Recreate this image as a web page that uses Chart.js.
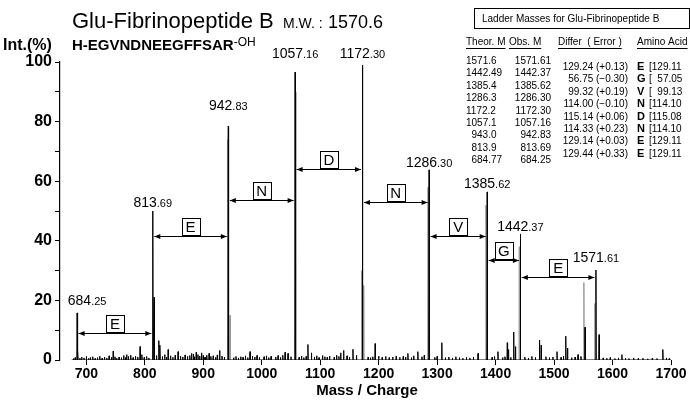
<!DOCTYPE html>
<html lang="en">
<head>
    <meta charset="UTF-8">
    <title>Glu-Fibrinopeptide B</title>
    <script src="https://cdn.jsdelivr.net/npm/chart.js"></script>
    <style>
        body { margin: 0; background: #fff; }
        canvas { display: block; }
    </style>
</head>
<body>
    <canvas id="chartCanvas" width="690" height="400"></canvas>

    <script>
        // labelled ladder peaks (m/z, intensity %)
        const mainMass = [684.25, 813.69, 942.83, 1057.16, 1172.30, 1286.30, 1385.62, 1442.37, 1571.61];
        const mainInt  = [15.8, 50, 78.5, 96.6, 99, 63.8, 56.4, 42.3, 30.2];

        // smaller peaks
        const minorMass = [685.5, 746, 769, 792, 816, 824, 826, 840, 857, 880, 888, 897, 910, 928, 980,
            1040, 1045, 1079, 1085, 1135, 1140, 1156, 1194, 1250, 1267, 1308, 1370, 1404, 1420, 1422,
            1431, 1434, 1475, 1478, 1505, 1520, 1523, 1541, 1553, 1577, 1616, 1686];
        const minorInt = [3.5, 3, 1.8, 4.5, 21, 6.5, 5, 3.5, 2.8, 2.2, 2.6, 2.4, 2.2, 3.2, 2.8,
            2.6, 2.2, 5.2, 2.4, 2.4, 3.2, 3.6, 5.5, 2.2, 2.8, 5.8, 2.2, 2.8, 5.8, 3.5,
            9.4, 4.5, 6.7, 5, 2.8, 8, 4, 1.8, 11, 8.5, 1.8, 3.5];

        // grey neighbour peaks
        const shadowMass = [941.5, 946, 1058.5, 1170.5, 1174.5, 1284.5, 1383.5, 1440.5, 1551, 1569.5];
        const shadowInt  = [74, 15, 90, 30, 25, 58, 52, 38, 26, 19];

        // baseline noise
        const noiseMass = [
            678, 681, 689, 692, 696, 700, 704, 707, 711, 715,
            719, 723, 727, 731, 735, 739, 743, 749, 752, 756,
            760, 764, 767, 772, 776, 780, 784, 788, 795, 799,
            803, 807, 820, 830, 834, 837, 844, 848, 852, 861,
            865, 869, 873, 877, 883, 885, 891, 894, 900, 903,
            906, 913, 917, 921, 924, 932, 936, 952, 956, 960,
            964, 968, 972, 976, 984, 988, 992, 996, 1004, 1008,
            1012, 1016, 1024, 1028, 1032, 1036, 1050, 1064, 1068, 1072,
            1076, 1090, 1094, 1098, 1104, 1108, 1112, 1116, 1124, 1128,
            1132, 1146, 1150, 1162, 1182, 1186, 1190, 1200, 1206, 1212,
            1218, 1224, 1230, 1236, 1242, 1246, 1256, 1260, 1274, 1278,
            1296, 1300, 1314, 1320, 1326, 1332, 1338, 1344, 1350, 1356,
            1362, 1394, 1398, 1412, 1416, 1426, 1450, 1456, 1462, 1468,
            1486, 1492, 1498, 1512, 1516, 1530, 1536, 1546, 1584, 1590,
            1596, 1604, 1610, 1622, 1628, 1636, 1644, 1652, 1660, 1668,
            1676, 1692, 1697];
        const noiseInt = [
            0.5, 0.8, 0.6, 1.0, 0.7, 1.2, 0.6, 0.9, 1.1, 0.5,
            0.8, 1.3, 0.6, 1.0, 0.7, 1.4, 0.9, 1.1, 0.6, 1.0,
            0.8, 1.5, 0.9, 1.2, 1.6, 0.8, 1.3, 1.0, 1.8, 0.9,
            1.2, 0.7, 1.5, 1.2, 1.8, 1.0, 1.4, 0.9, 1.6, 1.3,
            1.0, 1.7, 1.2, 1.5, 2.0, 1.1, 1.8, 1.3, 1.5, 1.0,
            1.6, 1.2, 1.4, 0.9, 1.7, 1.3, 1.0, 0.8, 1.2, 0.7,
            1.1, 0.9, 1.4, 0.8, 1.3, 1.0, 1.5, 0.9, 1.1, 1.4,
            0.8, 1.2, 1.0, 1.5, 0.9, 1.6, 1.1, 0.9, 1.3, 0.8,
            1.2, 1.0, 1.4, 0.8, 1.5, 1.1, 0.9, 1.3, 1.0, 1.6,
            1.2, 1.4, 0.9, 1.6, 1.0, 0.8, 1.1, 1.3, 0.9, 1.2,
            0.8, 1.0, 1.3, 0.9, 1.2, 1.0, 0.8, 1.4, 1.1, 1.6,
            0.9, 1.2, 0.8, 1.0, 0.7, 1.1, 0.8, 0.6, 0.9, 0.7,
            1.0, 0.9, 1.2, 0.8, 1.1, 0.9, 1.0, 0.7, 1.2, 0.9,
            1.1, 0.8, 1.0, 0.9, 1.3, 0.8, 1.0, 1.2, 0.7, 0.6,
            0.8, 0.5, 0.7, 0.6, 0.5, 0.7, 0.5, 0.6, 0.4, 0.6,
            0.5, 0.7, 0.5];

        const xTicks = [700, 800, 900, 1000, 1100, 1200, 1300, 1400, 1500, 1600, 1700];

        // ladder: residue between consecutive labelled peaks
        const ladderAA = ['E', 'E', 'N', 'D', 'N', 'V', 'G', 'E'];

        // table
        const theorMass = ['1571.6', '1442.49', '1385.4', '1286.3', '1172.2', '1057.1', '943.0', '813.9', '684.77'];
        const obsMass   = ['1571.61', '1442.37', '1385.62', '1286.30', '1172.30', '1057.16', '942.83', '813.69', '684.25'];
        const differ    = ['129.24 (+0.13)', '56.75 (\u22120.30)', '99.32 (+0.19)', '114.00 (\u22120.10)',
                           '115.14 (+0.06)', '114.33 (+0.23)', '129.14 (+0.03)', '129.44 (+0.33)'];
        const tableAA   = ['E', 'G', 'V', 'N', 'D', 'N', 'E', 'E'];
        const aaMass    = ['[129.11', '[  57.05', '[  99.13', '[114.10', '[115.08', '[114.10', '[129.11', '[129.11'];

        // annotation placement, in axis units (intensity %)
        const labelLevel = [20.1, 53, 85.6, 103, 103, 66.4, 59.4, 45, 34.6];
        const labelShift = [10, 0, 0, 0, 0, 0, 0, 0, 0];
        const arrowLevel = [9, 41.6, 53.7, 64, 53, 41.6, 33.6, 27.9];

        const FONT = "'Liberation Sans', Arial, sans-serif";

        function sticks(masses, ints, gaps) {
            const pts = [];
            const order = masses.map((m, i) => i).sort((a, b) => masses[a] - masses[b]);
            order.forEach(i => {
                const m = masses[i];
                pts.push({ x: m - 0.5, y: 0 }, { x: m, y: ints[i] }, { x: m + 0.5, y: 0 });
                if (gaps) pts.push({ x: m + 0.6, y: null });
            });
            return pts;
        }

        const allMass = mainMass.concat(minorMass, noiseMass);
        const allInt = mainInt.concat(minorInt, noiseInt);
        const trace = [{ x: 675, y: 0 }].concat(sticks(allMass, allInt, false), [{ x: 1700, y: 0 }]);

        function massLabel(ctx, str, cx, cy) {
            const parts = str.split('.');
            ctx.font = '14px ' + FONT;
            const w1 = ctx.measureText(parts[0]).width;
            ctx.font = '11px ' + FONT;
            const w2 = ctx.measureText('.' + parts[1]).width;
            const x0 = cx - (w1 + w2) / 2;
            ctx.textAlign = 'left';
            ctx.textBaseline = 'alphabetic';
            ctx.font = '14px ' + FONT;
            ctx.fillText(parts[0], x0, cy + 5);
            ctx.font = '11px ' + FONT;
            ctx.fillText('.' + parts[1], x0 + w1, cy + 5);
        }

        function ladderArrow(ctx, x1, x2, yy, letter) {
            ctx.lineWidth = 1;
            ctx.beginPath();
            ctx.moveTo(x1, yy + 0.5);
            ctx.lineTo(x2, yy + 0.5);
            ctx.stroke();
            [[x1, 1], [x2, -1]].forEach(([xe, d]) => {
                ctx.beginPath();
                ctx.moveTo(xe, yy + 0.5);
                ctx.lineTo(xe + d * 6, yy - 2);
                ctx.lineTo(xe + d * 6, yy + 3);
                ctx.closePath();
                ctx.fill();
            });
            const cx = (x1 + x2) / 2;
            ctx.strokeRect(Math.round(cx - 9) + 0.5, Math.round(yy - 18) + 0.5, 18, 17);
            ctx.font = '15px ' + FONT;
            ctx.textAlign = 'center';
            ctx.textBaseline = 'alphabetic';
            ctx.fillText(letter, cx, yy - 4);
        }

        const annotations = {
            id: 'annotations',
            afterDraw(chart) {
                const { ctx, scales: { x, y } } = chart;
                ctx.save();
                ctx.fillStyle = '#000';
                ctx.strokeStyle = '#000';

                // title
                ctx.textAlign = 'left';
                ctx.textBaseline = 'alphabetic';
                ctx.font = '22px ' + FONT;
                ctx.fillText('Glu-Fibrinopeptide B', 72, 28);
                ctx.font = '14px ' + FONT;
                ctx.fillText('M.W. :', 283, 28);
                ctx.font = '18px ' + FONT;
                ctx.fillText('1570.6', 328, 28);

                ctx.font = 'bold 16px ' + FONT;
                ctx.fillText('Int.(%)', 3, 50);
                ctx.font = 'bold 15px ' + FONT;
                ctx.fillText('H-EGVNDNEEGFFSAR', 72, 50);
                const seqW = ctx.measureText('H-EGVNDNEEGFFSAR').width;
                ctx.font = '12px ' + FONT;
                ctx.fillText('-OH', 72 + seqW, 46);

                // peak labels
                mainMass.forEach((m, i) => {
                    massLabel(ctx, m.toFixed(2), x.getPixelForValue(m) + labelShift[i], y.getPixelForValue(labelLevel[i]));
                });

                // ladder arrows
                ladderAA.forEach((aa, i) => {
                    const x1 = x.getPixelForValue(mainMass[i]) + 1.5;
                    const x2 = x.getPixelForValue(mainMass[i + 1]) - 1.5;
                    ladderArrow(ctx, x1, x2, Math.round(y.getPixelForValue(arrowLevel[i])), aa);
                });

                // axis title
                ctx.font = 'bold 15px ' + FONT;
                ctx.textAlign = 'center';
                ctx.fillText('Mass / Charge', 367, 395);

                // ladder table
                ctx.lineWidth = 1;
                ctx.strokeRect(474.5, 8.5, 215, 20);
                ctx.font = '10px ' + FONT;
                ctx.textAlign = 'left';
                ctx.fillText('Ladder Masses for Glu-Fibrinopeptide B', 482, 22);

                const heads = [['Theor. M', 466], ['Obs. M', 509], ['Differ  ( Error )', 558], ['Amino Acid', 637]];
                heads.forEach(([t, hx]) => {
                    ctx.fillText(t, hx, 45);
                    const w = ctx.measureText(t).width;
                    ctx.beginPath();
                    ctx.moveTo(hx, 48.5);
                    ctx.lineTo(hx + w, 48.5);
                    ctx.stroke();
                });

                theorMass.forEach((t, i) => {
                    const ry = 64 + i * 12.4;
                    const digits = t.split('.')[0].length;
                    ctx.textAlign = 'left';
                    ctx.fillText(t, 466 + (4 - digits) * 5.5, ry);
                    ctx.textAlign = 'right';
                    ctx.fillText(obsMass[i], 551, ry);
                });
                differ.forEach((d, i) => {
                    const ry = 70 + i * 12.4;
                    ctx.textAlign = 'right';
                    ctx.font = '10px ' + FONT;
                    ctx.fillText(d, 628, ry);
                    ctx.textAlign = 'left';
                    ctx.font = 'bold 11px ' + FONT;
                    ctx.fillText(tableAA[i], 637, ry);
                    ctx.font = '10px ' + FONT;
                    ctx.fillText(aaMass[i], 649, ry);
                });

                ctx.restore();
            }
        };

        const ctx = document.getElementById('chartCanvas').getContext('2d');
        new Chart(ctx, {
            type: 'line',
            data: {
                datasets: [{
                    data: trace,
                    borderColor: '#000',
                    borderWidth: 1,
                    pointRadius: 0,
                    tension: 0,
                    fill: false,
                }, {
                    data: sticks(shadowMass, shadowInt, true),
                    borderColor: '#9a9a9a',
                    borderWidth: 1,
                    pointRadius: 0,
                    tension: 0,
                    spanGaps: false,
                    fill: false,
                }],
            },
            options: {
                responsive: false,
                devicePixelRatio: 1,
                animation: false,
                layout: { padding: { top: 62, right: 19, left: 0, bottom: 0 } },
                plugins: {
                    legend: { display: false },
                    tooltip: { enabled: false },
                },
                scales: {
                    x: {
                        type: 'linear',
                        min: 655,
                        max: 1700,
                        afterBuildTicks: (scale) => { scale.ticks = xTicks.map(v => ({ value: v })); },
                        afterFit: (scale) => { scale.height = 40; },
                        grid: { drawOnChartArea: false, tickLength: 5, color: '#000' },
                        border: { display: false },
                        ticks: {
                            color: '#000',
                            padding: 1,
                            maxRotation: 0,
                            callback: v => String(v),
                            font: { family: FONT, size: 14, weight: 'bold' },
                        },
                    },
                    y: {
                        min: 0,
                        max: 100,
                        afterFit: (scale) => { scale.width = 60; },
                        grid: { drawOnChartArea: false, tickLength: 5, color: '#000' },
                        border: { color: '#000', width: 1.2 },
                        ticks: {
                            stepSize: 10,
                            color: '#000',
                            padding: 3,
                            callback: v => (v % 20 === 0 ? v : ''),
                            font: { family: FONT, size: 16, weight: 'bold' },
                        },
                    },
                },
            },
            plugins: [annotations],
        });
    </script>
</body>
</html>
